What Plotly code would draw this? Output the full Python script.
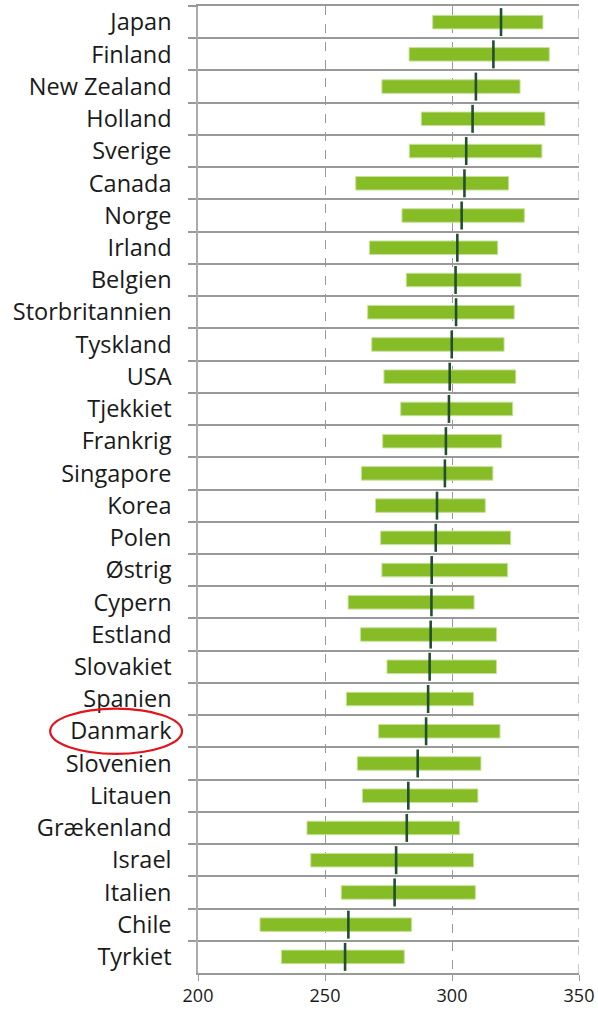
import plotly.graph_objects as go

countries = ["Japan", "Finland", "New Zealand", "Holland", "Sverige", "Canada", "Norge",
             "Irland", "Belgien", "Storbritannien", "Tyskland", "USA", "Tjekkiet", "Frankrig",
             "Singapore", "Korea", "Polen", "Østrig", "Cypern", "Estland", "Slovakiet",
             "Spanien", "Danmark", "Slovenien", "Litauen", "Grækenland", "Israel", "Italien",
             "Chile", "Tyrkiet"]
low = [292.4, 283.1, 272.4, 287.9, 283.2, 262.1, 280.3, 267.5, 282.0, 266.8, 268.4, 273.2,
       279.8, 272.7, 264.3, 269.9, 271.9, 272.4, 259.1, 264.0, 274.4, 258.4, 271.1, 262.7,
       264.7, 242.9, 244.4, 256.4, 224.4, 232.8]
high = [335.8, 338.3, 326.8, 336.6, 335.4, 322.3, 328.5, 318.0, 327.2, 324.5, 320.5, 325.1,
        323.9, 319.6, 316.1, 313.1, 323.1, 321.9, 308.7, 317.5, 317.5, 308.5, 318.9, 311.4,
        310.2, 303.0, 308.5, 309.2, 284.1, 281.2]
mean = [319.3, 316.3, 309.4, 308.1, 305.6, 304.9, 303.8, 302.1, 301.4, 301.6, 299.9, 299.1,
        298.8, 297.6, 297.2, 294.1, 293.6, 292.0, 291.9, 291.6, 291.2, 290.6, 289.8, 286.5,
        282.8, 282.2, 278.0, 277.4, 259.2, 257.9]
x_ticks = [200, 250, 300, 350]
highlight = "Danmark"

GRID = "#999999"
fig = go.Figure()
fig.add_trace(go.Bar(
    y=countries, x=[h - l for h, l in zip(high, low)], base=low, orientation="h",
    width=0.42, marker=dict(color="#86BC25", line=dict(color="#C8E29A", width=1)),
    hoverinfo="skip", showlegend=False,
))
fig.add_trace(go.Scatter(
    y=countries, x=mean, mode="markers",
    marker=dict(symbol="line-ns", size=20, line=dict(color="#22502F", width=2.6)),
    hoverinfo="skip", showlegend=False,
))

n = len(countries)
idx = countries.index(highlight)
fig.add_shape(type="circle", xref="paper", yref="y",
              x0=-0.388, x1=-0.042, y0=idx - 0.7, y1=idx + 0.7,
              line=dict(color="#E3141B", width=2.2), fillcolor="rgba(0,0,0,0)")
# top boundary tick and right-edge dashed gridline
fig.add_shape(type="line", xref="paper", yref="paper", x0=-8 / 381, x1=0, y0=1, y1=1,
              line=dict(color=GRID, width=1.5), layer="above")
fig.add_shape(type="line", xref="x", yref="paper", x0=x_ticks[-1], x1=x_ticks[-1], y0=0, y1=1,
              line=dict(color=GRID, width=1, dash="dash"), layer="below")

fig.update_layout(
    width=598, height=1013,
    margin=dict(l=198, r=19, t=4, b=40),
    paper_bgcolor="white", plot_bgcolor="white",
    font=dict(family="Open Sans", color="#1a1a1a"),
    xaxis=dict(
        range=[200, 350], tickvals=x_ticks, ticks="outside", ticklen=6,
        tickcolor=GRID, tickfont=dict(size=18),
        showgrid=True, gridcolor=GRID, griddash="dash", gridwidth=1,
        showline=True, mirror=True, linecolor=GRID, linewidth=1.5, zeroline=False,
    ),
    yaxis=dict(
        type="category", categoryorder="array", categoryarray=countries,
        range=[n - 0.5, -0.5], tickson="boundaries", ticks="outside", ticklen=8,
        tickcolor=GRID, tickwidth=1.5,
        showgrid=True, gridcolor=GRID, gridwidth=1.5,
        showline=True, linecolor="#AAAAAA", linewidth=1.5,
        tickfont=dict(size=23.5), ticklabelstandoff=20,
    ),
)

fig.write_html("out.html", config={"displayModeBar": False},
               post_script="document.body.style.margin='0';")
